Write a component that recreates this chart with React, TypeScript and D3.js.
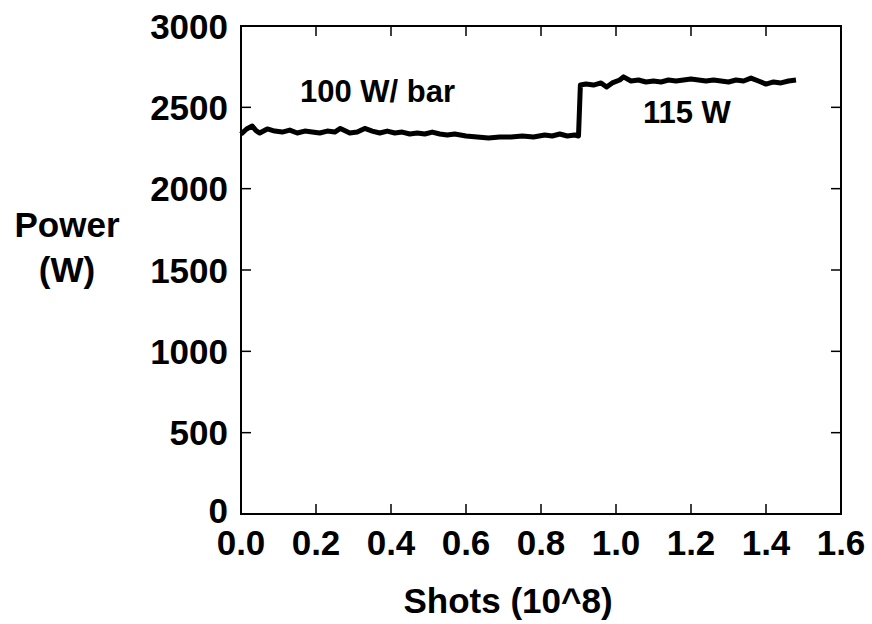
import * as d3 from 'd3';
import React from 'react';

// readings of the trace (shots in 10^8, power in W)
const shots = [
  0.0, 0.015, 0.03, 0.04, 0.05, 0.07, 0.09, 0.11, 0.13, 0.15, 0.17, 0.19, 0.21, 0.23, 0.25, 0.265,
  0.29, 0.31, 0.33, 0.35, 0.37, 0.39, 0.41, 0.43, 0.45, 0.47, 0.49, 0.51, 0.53, 0.55, 0.57,
  0.6, 0.63, 0.66, 0.69, 0.72, 0.75, 0.78, 0.81, 0.83, 0.85, 0.87, 0.89, 0.9,
  0.905, 0.92, 0.94, 0.96, 0.975, 0.99, 1.01, 1.02, 1.04, 1.06, 1.08, 1.1, 1.12, 1.14, 1.16,
  1.18, 1.2, 1.22, 1.24, 1.26, 1.28, 1.3, 1.32, 1.34, 1.36, 1.38, 1.4, 1.42, 1.44, 1.46, 1.48,
];
const power = [
  2335, 2367, 2385, 2357, 2342, 2367, 2354, 2348, 2360, 2342, 2354, 2348, 2342, 2354, 2348, 2370,
  2342, 2348, 2370, 2354, 2342, 2354, 2342, 2348, 2336, 2342, 2336, 2348, 2336, 2330, 2336,
  2324, 2318, 2312, 2318, 2318, 2324, 2318, 2330, 2324, 2336, 2324, 2330, 2324,
  2637, 2643, 2637, 2650, 2625, 2650, 2668, 2687, 2662, 2668, 2656, 2662, 2656, 2668, 2662,
  2668, 2674, 2668, 2662, 2668, 2662, 2656, 2668, 2662, 2680, 2662, 2643, 2656, 2650, 2662, 2668,
];
const xTicks = [0, 0.2, 0.4, 0.6, 0.8, 1.0, 1.2, 1.4, 1.6];
const yTicks = [0, 500, 1000, 1500, 2000, 2500, 3000];

const font = '"Liberation Sans", Arial, sans-serif';

const App = () => {
  const left = 241, right = 841, top = 26, bottom = 514;
  const tick = 10;

  const x = d3.scaleLinear().domain([0, 1.6]).range([left, right]);
  const y = d3.scaleLinear().domain([0, 3000]).range([bottom, top]);

  const data = shots.map((s, i) => ({ s, p: power[i] }));
  const line = d3.line<{ s: number; p: number }>()
    .x(d => x(d.s))
    .y(d => y(d.p))
    .curve(d3.curveLinear);

  return (
    <svg width={872} height={624} style={{ position: 'absolute', left: 0, top: 0, background: '#fff' }}
      fontFamily={font} fontWeight="bold">
      <rect x={left} y={top} width={right - left} height={bottom - top} fill="none" stroke="#000" strokeWidth={2} />

      {/* ticks on all four sides, pointing in */}
      {xTicks.map(t => (
        <g key={'x' + t}>
          <line x1={x(t)} x2={x(t)} y1={bottom} y2={bottom - tick} stroke="#000" strokeWidth={1.5} />
          <line x1={x(t)} x2={x(t)} y1={top} y2={top + tick} stroke="#000" strokeWidth={1.5} />
          <text x={x(t)} y={555} fontSize={35} textAnchor="middle">{t.toFixed(1)}</text>
        </g>
      ))}
      {yTicks.map(t => (
        <g key={'y' + t}>
          <line x1={left} x2={left + tick} y1={y(t)} y2={y(t)} stroke="#000" strokeWidth={1.5} />
          <line x1={right} x2={right - tick} y1={y(t)} y2={y(t)} stroke="#000" strokeWidth={1.5} />
          <text x={228} y={y(t) + (t === 0 ? 9 : 12.5)} fontSize={35} textAnchor="end">{t}</text>
        </g>
      ))}

      <path d={line(data) ?? ''} fill="none" stroke="#000" strokeWidth={5} strokeLinejoin="round" />

      <text x={300} y={102} fontSize={31}>100 W/ bar</text>
      <text x={643} y={123} fontSize={31}>115 W</text>

      <text x={67} y={237} fontSize={35} textAnchor="middle">Power</text>
      <text x={67} y={282} fontSize={35} textAnchor="middle">(W)</text>
      <text x={508} y={613} fontSize={35} textAnchor="middle">Shots (10^8)</text>
    </svg>
  );
};

export default App;
